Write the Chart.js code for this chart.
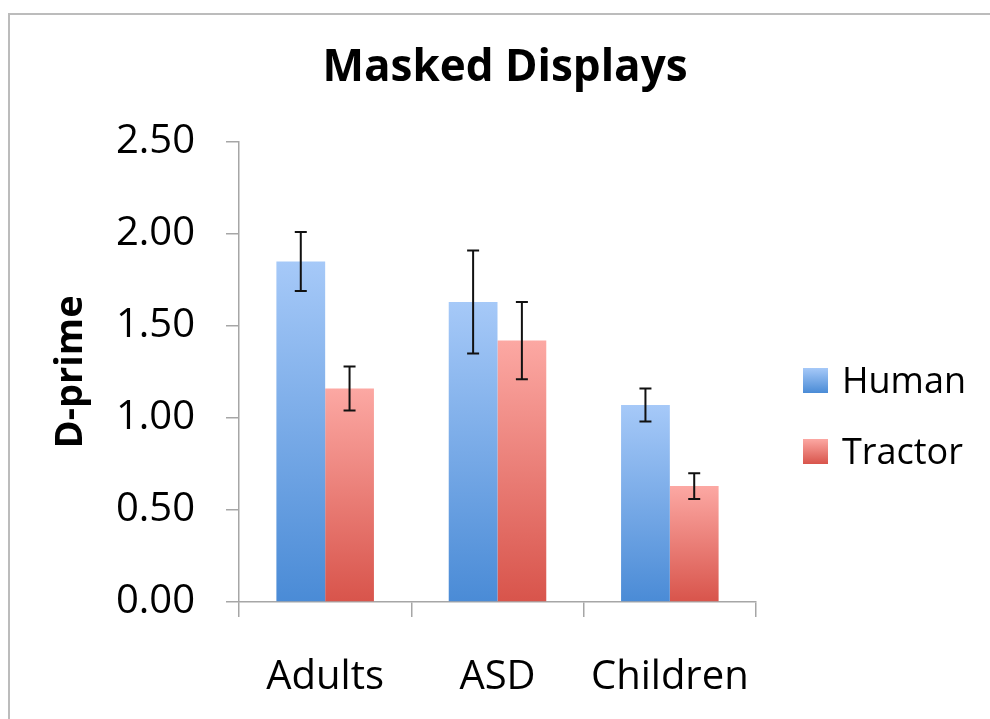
<!DOCTYPE html>
<html>
<head>
<meta charset="utf-8">
<script src="https://cdn.jsdelivr.net/npm/chart.js@4.4.1/dist/chart.umd.min.js"></script>
<style>
  html, body { margin: 0; padding: 0; background: #fff; }
  #wrap { position: relative; width: 990px; height: 719px; overflow: hidden; }
  #frame { position: absolute; left: 8px; top: 13px; right: -4px; bottom: -4px;
           border-left: 2px solid #bcbcbc; border-top: 2px solid #bcbcbc; }
  #maskedChart { position: absolute; left: 0; top: 0; }
</style>
</head>
<body>
<div id="wrap">
  <div id="frame"></div>
  <canvas id="maskedChart" width="990" height="719"></canvas>
</div>
<script>
// values
const categories = ['Adults', 'ASD', 'Children'];
const humanScores = [1.85, 1.63, 1.07];
const tractorScores = [1.16, 1.42, 0.63];
const humanErrors = [0.16, 0.28, 0.09];
const tractorErrors = [0.12, 0.21, 0.07];
const yTicks = [0, 0.5, 1.0, 1.5, 2.0, 2.5];

const FONT = "'Open Sans', 'DejaVu Sans', sans-serif";
const blueStops = ['#a6c9f8', '#4a8bd6'];
const redStops = ['#fca8a3', '#d8544b'];

// vertical gradient for one bar, from its top down to zero
function barGradient(stops) {
    return context => {
        const chart = context.chart;
        if (!chart.chartArea || context.raw === undefined) return stops[1];
        const y = chart.scales.y;
        const top = y.getPixelForValue(context.raw);
        const bottom = y.getPixelForValue(0);
        const g = chart.ctx.createLinearGradient(0, top, 0, bottom);
        g.addColorStop(0, stops[0]);
        g.addColorStop(1, stops[1]);
        return g;
    };
}

// error bars drawn on top of the bars
const errorBarPlugin = {
    id: 'errorBars',
    afterDatasetsDraw(chart) {
        const ctx = chart.ctx;
        const y = chart.scales.y;
        ctx.save();
        ctx.strokeStyle = '#111';
        ctx.lineWidth = 2;
        chart.data.datasets.forEach((ds, i) => {
            const meta = chart.getDatasetMeta(i);
            meta.data.forEach((bar, j) => {
                const v = ds.data[j];
                const e = ds.errors[j];
                const yHi = y.getPixelForValue(v + e);
                const yLo = y.getPixelForValue(v - e);
                const x = bar.x;
                ctx.beginPath();
                ctx.moveTo(x, yHi); ctx.lineTo(x, yLo);
                ctx.moveTo(x - 6, yHi); ctx.lineTo(x + 6, yHi);
                ctx.moveTo(x - 6, yLo); ctx.lineTo(x + 6, yLo);
                ctx.stroke();
            });
        });
        ctx.restore();
    }
};

// legend on the right, squares with the same gradients
const sideLegendPlugin = {
    id: 'sideLegend',
    afterDraw(chart) {
        const ctx = chart.ctx;
        const items = [
            { label: chart.data.datasets[0].label, stops: blueStops, top: 368 },
            { label: chart.data.datasets[1].label, stops: redStops, top: 439 }
        ];
        ctx.save();
        items.forEach(item => {
            const g = ctx.createLinearGradient(0, item.top, 0, item.top + 25);
            g.addColorStop(0, item.stops[0]);
            g.addColorStop(1, item.stops[1]);
            ctx.fillStyle = g;
            ctx.fillRect(803, item.top, 25, 25);
            ctx.fillStyle = '#000';
            ctx.font = '36px ' + FONT;
            ctx.textAlign = 'left';
            ctx.textBaseline = 'middle';
            ctx.fillText(item.label, 842, item.top + 15);
        });
        ctx.restore();
    }
};

const chartCtx = document.getElementById('maskedChart').getContext('2d');
new Chart(chartCtx, {
    type: 'bar',
    data: {
        labels: categories,
        datasets: [
            {
                label: 'Human',
                data: humanScores,
                errors: humanErrors,
                yAxisID: 'y',
                backgroundColor: barGradient(blueStops)
            },
            {
                label: 'Tractor',
                data: tractorScores,
                errors: tractorErrors,
                yAxisID: 'y',
                backgroundColor: barGradient(redStops)
            }
        ]
    },
    options: {
        responsive: false,
        animation: false,
        events: [],
        layout: { padding: { left: 20, right: 0, top: 0, bottom: 0 } },
        datasets: {
            bar: { categoryPercentage: 0.566, barPercentage: 1.0 }
        },
        scales: {
            x: {
                afterFit: scale => { scale.height = 117; },
                grid: {
                    drawOnChartArea: false,
                    tickLength: 15,
                    color: '#a6a6a6',
                    lineWidth: 1.5
                },
                border: { color: '#a6a6a6', width: 1.5 },
                ticks: {
                    color: '#000',
                    padding: 37,
                    font: { family: FONT, size: 40 }
                }
            },
            y: {
                position: 'left',
                min: 0,
                max: 2.5,
                afterFit: scale => { scale.width = 219; },
                afterBuildTicks: scale => { scale.ticks = yTicks.map(v => ({ value: v })); },
                grid: {
                    drawOnChartArea: false,
                    tickLength: 13,
                    color: '#a6a6a6',
                    lineWidth: 1.5
                },
                border: { color: '#a6a6a6', width: 1.5 },
                ticks: {
                    color: '#000',
                    padding: 31,
                    font: { family: FONT, size: 40 },
                    callback: value => Number(value).toFixed(2)
                },
                title: {
                    display: true,
                    text: 'D-prime',
                    color: '#000',
                    padding: { top: 28, bottom: 0 },
                    font: { family: FONT, size: 38, weight: 'bold' }
                }
            },
            // empty right-hand axis that only reserves room for the legend
            legendSpace: {
                type: 'linear',
                position: 'right',
                min: 0,
                max: 2.5,
                afterFit: scale => { scale.width = 234; },
                grid: { display: false },
                border: { display: false },
                ticks: { display: false }
            }
        },
        plugins: {
            legend: { display: false },
            tooltip: { enabled: false },
            title: {
                display: true,
                text: 'Masked Displays',
                color: '#000',
                padding: { top: 42, bottom: 47 },
                font: { family: FONT, size: 44, weight: 'bold' }
            }
        }
    },
    plugins: [errorBarPlugin, sideLegendPlugin]
});
</script>
</body>
</html>
